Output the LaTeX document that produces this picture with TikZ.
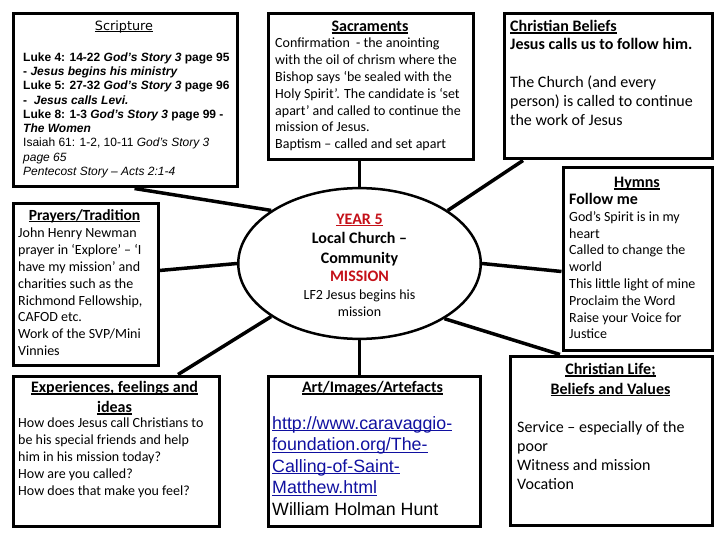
\documentclass[tikz,border=0pt]{standalone}
\usepackage{fontspec}
\setmainfont{Carlito}
\newfontfamily\arialfont{Liberation Sans}
\newfontfamily\dejavufont{DejaVu Sans}
\usetikzlibrary{shapes.geometric}
\definecolor{missionred}{RGB}{196,16,24}
\definecolor{linkblue}{RGB}{16,16,160}
\newsavebox\ulnbox
\newcommand{\uln}[1]{\sbox\ulnbox{#1}\rlap{\rule[-2pt]{\wd\ulnbox}{1.2pt}}\usebox\ulnbox}

\begin{document}
\begin{tikzpicture}[x=1pt, y=-1pt,
    panel/.style={draw, line width=3pt, inner sep=0pt, anchor=north west},
    link/.style={line width=3.5pt},
    head/.style={anchor=base, inner sep=0pt, align=center, font=\fontsize{16}{19.5}\selectfont\bfseries},
    body/.style={anchor=base west, inner sep=0pt, align=flush left, text width=#1, font=\fontsize{14}{16.8}\selectfont},
    body/.default=200pt]
    \useasboundingbox (0,0) rectangle (720,540);

    % the eight panels
    \node[panel, minimum width=224pt, minimum height=173pt] (scripture) at (11.5,12.5) {};
    \node[panel, minimum width=205pt, minimum height=146pt] (sacraments) at (266.5,12.5) {};
    \node[panel, minimum width=208pt, minimum height=145pt] (beliefs) at (502.5,12.5) {};
    \node[panel, minimum width=149pt, minimum height=182pt] (hymns) at (561.5,166.5) {};
    \node[panel, minimum width=145pt, minimum height=161pt] (prayers) at (11.5,202.5) {};
    \node[panel, minimum width=206pt, minimum height=150pt] (experiences) at (11.5,374.5) {};
    \node[panel, minimum width=212pt, minimum height=150pt] (art) at (266.5,374.5) {};
    \node[panel, minimum width=202pt, minimum height=169pt] (life) at (508.5,354.5) {};

    % centre
    \node[ellipse, draw, line width=2.5pt, minimum width=242.5pt, minimum height=146.5pt,
          inner sep=0pt, align=center, font=\fontsize{16}{19.5}\selectfont\bfseries] (core) at (359.5,263.5)
        {\rule{0pt}{14pt}\textcolor{missionred}{\uln{YEAR 5}}\\ Local Church –\\ Community\\[-1pt]
         \textcolor{missionred}{MISSION}\\[-1.5pt]
         {\mdseries\fontsize{14}{17}\selectfont LF2 Jesus begins his}\\[-2.5pt]
         {\mdseries\fontsize{14}{17}\selectfont mission}};

    % headings
    \node[head, font=\dejavufont\fontsize{12.8}{15}\selectfont] (scripturehead) at (124,30.5) {\uln{Scripture}};
    \node[head] (sacramentshead) at (370,31.6) {\uln{Sacraments}};
    \node[head] (hymnshead) at (637,187.6) {\uln{Hymns}};
    \node[head, font=\fontsize{15.5}{19}\selectfont\bfseries] (prayershead) at (84.5,220.4) {\uln{Prayers/Tradition}};
    \node[head, font=\fontsize{16}{20}\selectfont\bfseries] (experienceshead) at (114.5,412.6)
        {\uln{Experiences, feelings and}\\ \uln{ideas}};
    \node[head] (arthead) at (372.5,392.6) {\uln{Art/Images/Artefacts}};
    \node[head] (lifehead) at (610.5,394.1) {\uln{Christian Life;}\\ \uln{Beliefs and Values}};

    % texts
    \node[body=215pt, font=\arialfont\fontsize{12}{14.3}\selectfont] (scripturetext) at (23,61.2)
        {\textbf{Luke 4: 14-22 \textit{God’s Story 3} page 95}\\
         \textbf{- \textit{Jesus begins his ministry}}\\
         \textbf{Luke 5: 27-32 \textit{God’s Story 3} page 96}\\
         \textbf{-\ \ \textit{Jesus calls Levi.}}\\
         \textbf{Luke 8: 1-3 \textit{God’s Story 3} page 99 -}\\
         \textbf{\textit{The Women}}\\
         Isaiah 61: 1-2, 10-11 \textit{God’s Story 3}\\
         \textit{page 65}\\
         \textit{Pentecost Story – Acts 2:1-4}};
    \node[body] (sacramentstext) at (275,47.9)
        {Confirmation\ \ - the anointing\\
         with the oil of chrism where the\\
         Bishop says ‘be sealed with the\\
         Holy Spirit’. The candidate is ‘set\\
         apart’ and called to continue the\\
         mission of Jesus.\\
         Baptism – called and set apart};
    \node[body, font=\fontsize{16}{19}\selectfont] (beliefstext) at (510,31.6)
        {\textbf{\uln{Christian Beliefs}}\\[-1pt]
         \textbf{Jesus calls us to follow him.}\\[19pt]
         The Church (and every\\
         person) is called to continue\\
         the work of Jesus};
    \node[body] (hymnstext) at (569,204.6)
        {{\bfseries\fontsize{16}{16.8}\selectfont Follow me}\\
         God’s Spirit is in my\\
         heart\\
         Called to change the\\
         world\\
         This little light of mine\\
         Proclaim the Word\\
         Raise your Voice for\\
         Justice};
    \node[body] (prayerstext) at (18,237.9)
        {John Henry Newman\\
         prayer in ‘Explore’ – ‘I\\
         have my mission’ and\\
         charities such as the\\
         Richmond Fellowship,\\
         CAFOD etc.\\
         Work of the SVP/Mini\\
         Vinnies};
    \node[body, font=\fontsize{14}{17}\selectfont] (experiencestext) at (18,427.9)
        {How does Jesus call Christians to\\
         be his special friends and help\\
         him in his mission today?\\
         How are you called?\\
         How does that make you feel?};
    \node[body=230pt, font=\arialfont\fontsize{17.8}{21.5}\selectfont] (arttext) at (272,429.2)
        {\textcolor{linkblue}{\uln{http://www.caravaggio-}}\\
         \textcolor{linkblue}{\uln{foundation.org/The-}}\\
         \textcolor{linkblue}{\uln{Calling-of-Saint-}}\\
         \textcolor{linkblue}{\uln{Matthew.html}}\\
         William Holman Hunt};
    \node[body, font=\fontsize{16}{19}\selectfont] (lifetext) at (517,432.6)
        {Service – especially of the\\
         poor\\
         Witness and mission\\
         Vocation};

    % connectors
    \draw[link] ([xshift=9.5pt]scripture.south) -- (core.149);
    \draw[link] (core.north) -- (core.north |- sacraments.south);
    \draw[link] ([xshift=20.5pt]beliefs.south west) -- (core.31);
    \draw[link] ([yshift=14pt]prayers.east) -- (core.west);
    \draw[link] (core.east) -- ([yshift=-12.5pt]hymns.west);
    \draw[link] (core.211) -- ([xshift=-42.5pt]experiences.north east);
    \draw[link] (core.327) -- ([xshift=51.5pt]life.north west);
    \draw[link] (core.south) -- (core.south |- art.north);
\end{tikzpicture}
\end{document}
